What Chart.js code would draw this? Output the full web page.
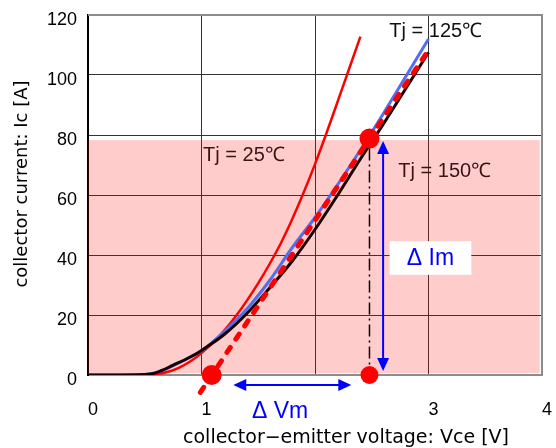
<!DOCTYPE html>
<html>
<head>
<meta charset="utf-8">
<script src="https://cdn.jsdelivr.net/npm/chart.js@4.4.1/dist/chart.umd.min.js"></script>
<style>
  body { margin: 0; background: #fff; }
  canvas { display: block; }
</style>
</head>
<body>
<canvas id="ic-vce" width="556" height="448"></canvas>
<script>
"use strict";

// Ic-Vce output curves
var vce25 = [0, 0.5, 0.6, 0.7, 0.8, 0.9, 1.0, 1.1, 1.2, 1.3, 1.4, 1.5, 1.6, 1.7, 1.8, 1.9, 2.0, 2.1, 2.2, 2.3, 2.4];
var ic25 = [0, 0, 0.3, 1, 2.4, 4.5, 7.3, 10.8, 14.8, 19.5, 24.8, 30.6, 37, 44, 52, 60.8, 70.3, 80.5, 91.2, 102, 112.8];

var vce125 = [0, 0.3, 0.5, 0.6, 0.7, 0.8, 0.9, 1.0, 1.2, 1.4, 1.6, 1.8, 2.0, 2.2, 2.4, 2.6, 2.8, 3.0];
var ic125 = [0, 0, 0.2, 0.8, 2.2, 4, 6, 8, 14.5, 22, 31.5, 42.5, 52.5, 63.5, 75, 87, 99.5, 112];

var vce150 = [0, 0.3, 0.55, 0.65, 0.75, 0.85, 0.95, 1.0, 1.2, 1.4, 1.6, 1.8, 2.0, 2.2, 2.4, 2.6, 2.8, 3.0];
var ic150 = [0, 0, 0.3, 1.5, 3.3, 5, 7, 8.2, 13.5, 20.5, 29, 38, 48.5, 60, 72, 83.5, 95.5, 107.5];

// tangent line and its markers
var tanVce = [0.99, 3.0];
var tanIc = [-5.8, 108.3];
var markVce = [1.09, 2.48, 2.48];
var markIc = [0, 78.8, 0];

var xTickLabels = ["0", "1", "", "3", "4"];
var yTicks = [0, 20, 40, 60, 80, 100, 120];

// shaded operating region and dimension arrows (data units)
var shade = { x0: 0, x1: 3.98, y0: 0.6, y1: 78.3 };
var arrowV = { from: 1.28, to: 2.32, at: -3.3 };
var arrowI = { from: 78, to: 1.3, at: 2.60 };

var FONT = "'Liberation Sans', Arial, sans-serif";
var TITLE_FONT = "'DejaVu Sans', sans-serif";

function pts(xs, ys) {
    return xs.map(function (x, i) { return { x: x, y: ys[i] }; });
}

function arrowHead(ctx, x, y, dx, dy) {
    var len = 13, half = 6;
    ctx.beginPath();
    ctx.moveTo(x, y);
    ctx.lineTo(x - dx * len - dy * half, y - dy * len + dx * half);
    ctx.lineTo(x - dx * len + dy * half, y - dy * len - dx * half);
    ctx.closePath();
    ctx.fill();
}

// keep the plot area fixed, labels may hang over the edges
function noPadding(s) {
    s.paddingLeft = s.paddingRight = s.paddingTop = s.paddingBottom = 0;
}

// pink band sits over the grid but under the curves
var shadePlugin = {
    id: "shade",
    beforeDatasetsDraw: function (chart) {
        var ctx = chart.ctx, xs = chart.scales.x, ys = chart.scales.y;
        ctx.save();
        ctx.fillStyle = "rgba(255, 0, 0, 0.2)";
        var l = xs.getPixelForValue(shade.x0), r = xs.getPixelForValue(shade.x1);
        var t = ys.getPixelForValue(shade.y1), b = ys.getPixelForValue(shade.y0);
        ctx.fillRect(l, t, r - l, b - t);
        ctx.restore();
    }
};

var notesPlugin = {
    id: "notes",
    afterDatasetsDraw: function (chart) {
        var ctx = chart.ctx, xs = chart.scales.x, ys = chart.scales.y, a = chart.chartArea;
        var px = function (v) { return xs.getPixelForValue(v); };
        var py = function (v) { return ys.getPixelForValue(v); };
        ctx.save();

        // top / right frame
        ctx.strokeStyle = "#8c8c8c";
        ctx.lineWidth = 2;
        ctx.beginPath();
        ctx.moveTo(a.left, a.top);
        ctx.lineTo(a.right, a.top);
        ctx.lineTo(a.right, a.bottom);
        ctx.stroke();

        // dash-dot drop line from the tangent point
        ctx.strokeStyle = "#000";
        ctx.lineWidth = 1.5;
        ctx.setLineDash([12, 4, 2, 4]);
        ctx.beginPath();
        ctx.moveTo(px(markVce[1]), py(markIc[1]) + 10);
        ctx.lineTo(px(markVce[1]), py(0) - 8);
        ctx.stroke();
        ctx.setLineDash([]);

        // ΔVm arrow
        ctx.strokeStyle = "#0000ff";
        ctx.fillStyle = "#0000ff";
        ctx.lineWidth = 2;
        var ya = py(arrowV.at), xa0 = px(arrowV.from), xa1 = px(arrowV.to);
        ctx.beginPath();
        ctx.moveTo(xa0 + 8, ya);
        ctx.lineTo(xa1 - 8, ya);
        ctx.stroke();
        arrowHead(ctx, xa0, ya, -1, 0);
        arrowHead(ctx, xa1, ya, 1, 0);

        // ΔIm arrow
        var xb = px(arrowI.at), yb0 = py(arrowI.from), yb1 = py(arrowI.to);
        ctx.beginPath();
        ctx.moveTo(xb, yb0 + 8);
        ctx.lineTo(xb, yb1 - 8);
        ctx.stroke();
        arrowHead(ctx, xb, yb0, 0, -1);
        arrowHead(ctx, xb, yb1, 0, 1);

        // ΔIm label box
        var bl = px(2.657), br = px(3.377), bt = py(44.6), bb = py(33.4);
        ctx.fillStyle = "#fff";
        ctx.fillRect(bl, bt, br - bl, bb - bt);
        ctx.fillStyle = "#0000ff";
        ctx.font = "23px " + FONT;
        ctx.textAlign = "center";
        ctx.textBaseline = "middle";
        ctx.fillText("Δ Im", (bl + br) / 2, (bt + bb) / 2 + 1);
        ctx.textAlign = "left";
        ctx.fillText("Δ Vm", px(1.444), py(-12.2));

        // temperature labels
        ctx.font = "20px " + FONT;
        ctx.fillStyle = "#111";
        ctx.fillText("Tj = 125℃", px(2.655), py(114.4));
        ctx.fillStyle = "#3a1414";
        ctx.fillText("Tj = 25℃", px(1.014), py(73.3));
        ctx.fillText("Tj = 150℃", px(2.734), py(68));

        // axis titles
        ctx.fillStyle = "#000";
        ctx.textAlign = "center";
        ctx.font = "19px " + TITLE_FONT;
        ctx.fillText("collector\u2212emitter voltage: Vce [V]", 346, 438);
        ctx.font = "18px " + TITLE_FONT;
        ctx.translate(22, 184);
        ctx.rotate(-Math.PI / 2);
        ctx.fillText("collector current: Ic [A]", 0, 0);
        ctx.restore();
    }
};

var ctx = document.getElementById("ic-vce").getContext("2d");
var chart = new Chart(ctx, {
    type: "scatter",
    data: {
        datasets: [{
            label: "markers",
            data: pts(markVce, markIc),
            pointRadius: [10, 10, 9],
            pointHoverRadius: [10, 10, 9],
            pointBackgroundColor: "#ff0000",
            pointBorderWidth: 0,
            clip: false,
            order: 0
        }, {
            label: "tangent",
            data: pts(tanVce, tanIc),
            showLine: true,
            borderColor: "#ff0000",
            borderWidth: 5,
            borderDash: [6, 10],
            borderCapStyle: "round",
            pointRadius: 0,
            clip: false,
            order: 1
        }, {
            label: "Tj = 150℃",
            data: pts(vce150, ic150),
            showLine: true,
            borderColor: "#1a0000",
            borderWidth: 3,
            cubicInterpolationMode: "monotone",
            pointRadius: 0,
            order: 2
        }, {
            label: "Tj = 125℃",
            data: pts(vce125, ic125),
            showLine: true,
            borderColor: "#4f6ef0",
            borderWidth: 3,
            cubicInterpolationMode: "monotone",
            pointRadius: 0,
            order: 3
        }, {
            label: "Tj = 25℃",
            data: pts(vce25, ic25),
            showLine: true,
            borderColor: "#ff0000",
            borderWidth: 2.5,
            cubicInterpolationMode: "monotone",
            pointRadius: 0,
            order: 4
        }]
    },
    options: {
        responsive: false,
        animation: false,
        devicePixelRatio: 1,
        layout: { padding: { top: 15, right: 14, left: 0, bottom: 0 } },
        plugins: {
            legend: { display: false },
            tooltip: { enabled: false }
        },
        scales: {
            x: {
                type: "linear",
                min: 0,
                max: 4,
                afterFit: function (s) { s.height = 73; noPadding(s); },
                afterBuildTicks: function (s) {
                    s.ticks = xTickLabels.map(function (t, i) { return { value: i }; });
                },
                ticks: {
                    color: "#000",
                    font: { family: FONT, size: 18 },
                    padding: 24,
                    labelOffset: 5,
                    maxRotation: 0,
                    callback: function (v, i) { return xTickLabels[i]; }
                },
                grid: { color: "#333", lineWidth: 1, drawTicks: false },
                border: { color: "#8c8c8c", width: 2 }
            },
            y: {
                min: 0,
                max: 120,
                afterFit: function (s) { s.width = 88; noPadding(s); },
                afterBuildTicks: function (s) {
                    s.ticks = yTicks.map(function (v) { return { value: v }; });
                },
                ticks: {
                    color: "#000",
                    font: { family: FONT, size: 18 },
                    padding: 11,
                    labelOffset: 5
                },
                grid: { color: "#333", lineWidth: 1, drawTicks: false },
                border: { color: "#000", width: 2 }
            }
        }
    },
    plugins: [shadePlugin, notesPlugin]
});
</script>
</body>
</html>
